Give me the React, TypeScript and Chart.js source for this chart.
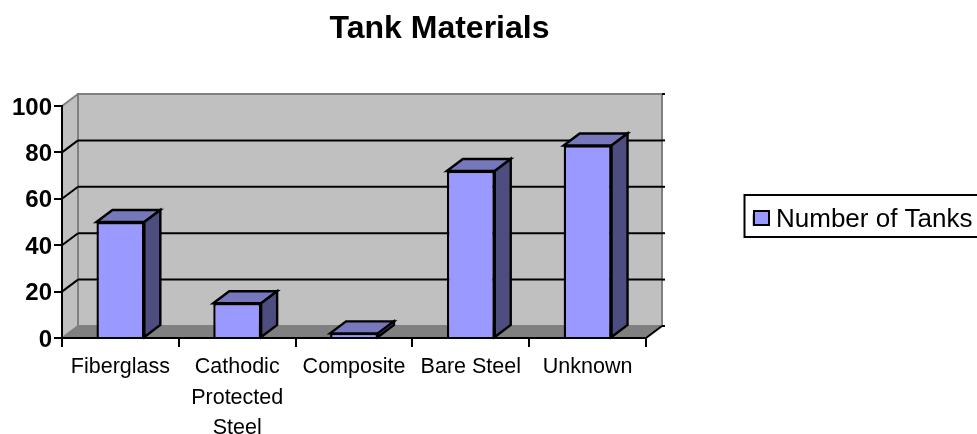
import React, { useEffect, useRef } from "react";
import { Chart, registerables } from "chart.js";

Chart.register(...registerables);

const categories: (string | string[])[] = ["Fiberglass", ["Cathodic", "Protected", "Steel"], "Composite", "Bare Steel", "Unknown"];
const tankCounts = [50, 15, 2, 72, 83];
const seriesName = "Number of Tanks";
const chartTitle = "Tank Materials";
const yTicks = [0, 20, 40, 60, 80, 100];

const FONT = "'Liberation Sans', Arial, sans-serif";
const DX = 16;
const DY = 12;

const poly = (ctx: CanvasRenderingContext2D, pts: number[][], fill?: string, stroke?: string, lw = 2) => {
  ctx.beginPath();
  pts.forEach((p, i) => (i ? ctx.lineTo(p[0], p[1]) : ctx.moveTo(p[0], p[1])));
  ctx.closePath();
  if (fill) {
    ctx.fillStyle = fill;
    ctx.fill();
  }
  if (stroke) {
    ctx.strokeStyle = stroke;
    ctx.lineWidth = lw;
    ctx.lineJoin = "miter";
    ctx.stroke();
  }
};

const line = (ctx: CanvasRenderingContext2D, x1: number, y1: number, x2: number, y2: number, color: string, lw = 2) => {
  ctx.beginPath();
  ctx.moveTo(x1, y1);
  ctx.lineTo(x2, y2);
  ctx.strokeStyle = color;
  ctx.lineWidth = lw;
  ctx.stroke();
};

const box3d = {
  id: "box3d",
  afterLayout(chart: any) {
    const t = chart.titleBlock;
    t.left = 0;
    t.right = 879;
    const l = chart.legend;
    l.left = 745;
    l.right = 985;
    l.top = 199;
    l.bottom = 241;
  },
  beforeDraw(chart: any) {
    const { ctx, chartArea: a, scales } = chart;
    ctx.save();
    const bl = a.bottom;
    const tl = a.top;
    poly(ctx, [[a.left, bl], [a.left + DX, bl - DY], [a.right + DX, bl - DY], [a.right, bl]], "#808080");
    poly(ctx, [[a.left, tl], [a.left + DX, tl - DY], [a.left + DX, bl - DY], [a.left, bl]], "#c0c0c0");
    ctx.fillStyle = "#c0c0c0";
    ctx.fillRect(a.left + DX, tl - DY, a.right - a.left, bl - tl);
    ctx.strokeStyle = "#808080";
    ctx.lineWidth = 2;
    ctx.strokeRect(a.left + DX, tl - DY, a.right - a.left, bl - tl);
    line(ctx, a.left, tl, a.left + DX, tl - DY, "#808080");
    line(ctx, a.left, bl, a.left + DX, bl - DY, "#808080");
    for (const v of yTicks) {
      const y = scales.y.getPixelForValue(v);
      if (v !== 0 && v !== 100) {
        line(ctx, a.left, y, a.left + DX, y - DY, "#000");
        line(ctx, a.left + DX, y - DY, a.right + DX, y - DY, "#000");
      }
      line(ctx, a.right + DX, y - DY, a.right + DX + 3, y - DY, "#000");
    }
    line(ctx, a.right, bl, a.right + DX, bl - DY, "#000");
    ctx.restore();
  },
  beforeDatasetsDraw(chart: any) {
    const { ctx } = chart;
    ctx.save();
    for (const bar of chart.getDatasetMeta(0).data) {
      const l = bar.x - bar.width / 2;
      const r = bar.x + bar.width / 2;
      poly(ctx, [[l, bar.y], [l + DX, bar.y - DY], [r + DX, bar.y - DY], [r, bar.y]], "#7777bb", "#000", 2.4);
      poly(ctx, [[r, bar.y], [r + DX, bar.y - DY], [r + DX, bar.base - DY], [r, bar.base]], "#4d4d80", "#000", 2.4);
    }
    ctx.restore();
  },
  afterDatasetsDraw(chart: any) {
    const { ctx, chartArea: a } = chart;
    ctx.save();
    line(ctx, a.left, a.bottom, a.right, a.bottom, "#000");
    ctx.restore();
  },
  afterDraw(chart: any) {
    const { ctx } = chart;
    ctx.save();
    ctx.strokeStyle = "#000";
    ctx.lineWidth = 2;
    ctx.beginPath();
    ctx.moveTo(985, 195);
    ctx.lineTo(744.5, 195);
    ctx.lineTo(744.5, 237);
    ctx.lineTo(985, 237);
    ctx.stroke();
    ctx.fillStyle = "#9999ff";
    ctx.fillRect(754, 211, 15, 14);
    ctx.strokeRect(754, 211, 15, 14);
    ctx.restore();
  },
};

export default function App() {
  const ref = useRef<HTMLCanvasElement>(null);
  useEffect(() => {
    const chart = new Chart(ref.current!, {
      type: "bar",
      data: {
        labels: categories as any,
        datasets: [
          {
            label: seriesName,
            data: tankCounts,
            backgroundColor: "#9999ff",
            borderColor: "#000",
            borderWidth: 2.4,
            borderSkipped: "bottom",
            categoryPercentage: 1,
            barPercentage: 0.41,
          },
        ],
      },
      options: {
        animation: false,
        responsive: false,
        layout: { autoPadding: false, padding: { top: 0, left: 0, bottom: 0, right: 115.67 } },
        scales: {
          x: {
            grid: { drawOnChartArea: false, color: "#000", lineWidth: 2, tickLength: 9, offset: true },
            border: { color: "#000", width: 2 },
            ticks: { color: "#000", font: { family: FONT, size: 21.5, lineHeight: 1.42 }, maxRotation: 0, minRotation: 0, autoSkip: false, padding: 5 },
            afterFit: (s: any) => { s.height = 96; },
          },
          y: {
            min: 0,
            max: 100,
            ticks: { stepSize: 20, color: "#000", font: { family: FONT, size: 24, weight: "bold" }, padding: 2, labelOffset: 2 },
            grid: { drawOnChartArea: false, color: "#000", lineWidth: 2, tickLength: 8 },
            border: { color: "#000", width: 2 },
            afterFit: (s: any) => { s.width = 62; },
          },
        },
        plugins: {
          tooltip: { enabled: false },
          title: {
            display: true,
            text: chartTitle,
            color: "#000",
            font: { family: FONT, size: 32, weight: "bold" },
            padding: { top: 10, bottom: 57.6 },
          },
          legend: {
            display: true,
            position: "right",
            labels: {
              color: "#000",
              font: { family: FONT, size: 26 },
              boxWidth: 9,
              boxHeight: 9,
              padding: 9,
            },
          },
        },
      },
      plugins: [box3d],
    } as any);
    return () => chart.destroy();
  }, []);
  return (
    <div style={{ position: "absolute", left: 0, top: 0, width: 977, height: 434, background: "#fff" }}>
      <canvas ref={ref} width={977} height={434} style={{ display: "block" }} />
    </div>
  );
}
